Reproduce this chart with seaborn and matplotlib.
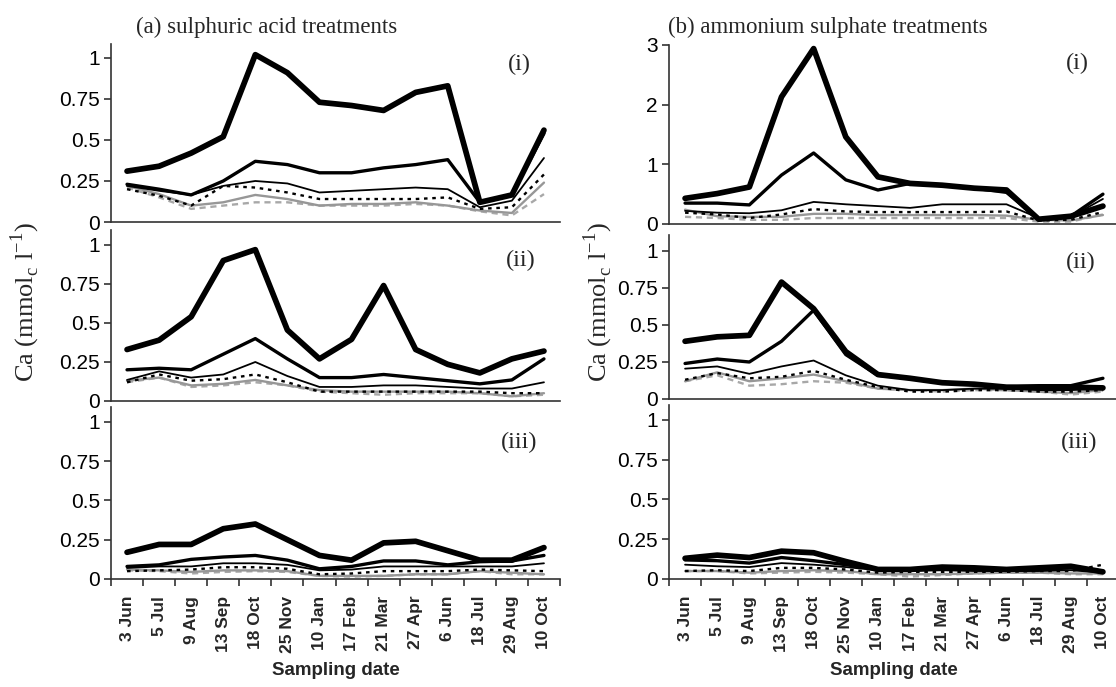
import numpy as np
import pandas as pd
import matplotlib
matplotlib.use("Agg")
import matplotlib.pyplot as plt
import seaborn as sns
from matplotlib.ticker import FixedLocator, FixedFormatter

# ---------------- data ----------------
dates = ["3 Jun", "5 Jul", "9 Aug", "13 Sep", "18 Oct", "25 Nov", "10 Jan",
         "17 Feb", "21 Mar", "27 Apr", "6 Jun", "18 Jul", "29 Aug", "10 Oct"]

# (a) sulphuric acid treatments
a1_thick = [0.31, 0.34, 0.42, 0.52, 1.02, 0.91, 0.73, 0.71, 0.68, 0.79, 0.83, 0.12, 0.165, 0.56]
a1_med   = [0.23, 0.20, 0.165, 0.25, 0.37, 0.35, 0.30, 0.30, 0.33, 0.35, 0.38, 0.12, 0.165, 0.54]
a1_thin  = [0.22, 0.19, 0.165, 0.22, 0.25, 0.235, 0.18, 0.19, 0.20, 0.21, 0.20, 0.09, 0.13, 0.39]
a1_dot   = [0.20, 0.16, 0.10, 0.22, 0.21, 0.18, 0.14, 0.14, 0.14, 0.14, 0.15, 0.08, 0.09, 0.29]
a1_gray  = [0.22, 0.17, 0.10, 0.12, 0.165, 0.14, 0.10, 0.11, 0.11, 0.12, 0.10, 0.07, 0.055, 0.24]
a1_gdash = [0.21, 0.15, 0.08, 0.10, 0.12, 0.12, 0.10, 0.10, 0.10, 0.11, 0.10, 0.065, 0.04, 0.17]

a2_thick = [0.33, 0.39, 0.54, 0.90, 0.97, 0.455, 0.27, 0.395, 0.74, 0.33, 0.235, 0.18, 0.27, 0.32]
a2_med   = [0.20, 0.21, 0.20, 0.30, 0.40, 0.27, 0.15, 0.15, 0.17, 0.15, 0.13, 0.11, 0.135, 0.27]
a2_thin  = [0.135, 0.19, 0.15, 0.17, 0.25, 0.16, 0.09, 0.09, 0.10, 0.10, 0.09, 0.08, 0.08, 0.12]
a2_dot   = [0.12, 0.17, 0.13, 0.14, 0.17, 0.12, 0.06, 0.06, 0.06, 0.06, 0.06, 0.06, 0.05, 0.05]
a2_gray  = [0.13, 0.15, 0.10, 0.11, 0.135, 0.10, 0.07, 0.06, 0.06, 0.06, 0.06, 0.05, 0.03, 0.05]
a2_gdash = [0.12, 0.15, 0.09, 0.10, 0.12, 0.10, 0.06, 0.05, 0.04, 0.05, 0.05, 0.05, 0.03, 0.04]

a3_thick = [0.17, 0.22, 0.22, 0.32, 0.35, 0.25, 0.15, 0.12, 0.23, 0.24, 0.18, 0.12, 0.12, 0.20]
a3_med   = [0.08, 0.09, 0.125, 0.14, 0.15, 0.12, 0.065, 0.08, 0.115, 0.115, 0.09, 0.11, 0.115, 0.15]
a3_thin  = [0.07, 0.08, 0.08, 0.10, 0.10, 0.09, 0.055, 0.06, 0.08, 0.08, 0.08, 0.08, 0.08, 0.10]
a3_dot   = [0.05, 0.055, 0.06, 0.075, 0.075, 0.065, 0.03, 0.035, 0.05, 0.05, 0.05, 0.06, 0.055, 0.05]
a3_gray  = [0.06, 0.055, 0.045, 0.055, 0.055, 0.05, 0.02, 0.02, 0.02, 0.03, 0.03, 0.05, 0.04, 0.03]
a3_gdash = [0.055, 0.05, 0.035, 0.045, 0.05, 0.045, 0.02, 0.015, 0.02, 0.03, 0.03, 0.05, 0.03, 0.03]

# (b) ammonium sulphate treatments
b1_thick = [0.43, 0.51, 0.62, 2.13, 2.94, 1.46, 0.79, 0.68, 0.65, 0.60, 0.57, 0.08, 0.13, 0.30]
b1_med   = [0.35, 0.35, 0.32, 0.82, 1.19, 0.74, 0.57, 0.68, 0.65, 0.60, 0.53, 0.08, 0.13, 0.50]
b1_thin  = [0.22, 0.19, 0.18, 0.23, 0.37, 0.33, 0.30, 0.27, 0.33, 0.33, 0.33, 0.10, 0.12, 0.42]
b1_dot   = [0.19, 0.16, 0.10, 0.16, 0.25, 0.21, 0.20, 0.20, 0.20, 0.20, 0.21, 0.06, 0.07, 0.20]
b1_gray  = [0.24, 0.13, 0.12, 0.12, 0.17, 0.17, 0.15, 0.15, 0.15, 0.15, 0.14, 0.07, 0.06, 0.15]
b1_gdash = [0.12, 0.10, 0.07, 0.07, 0.10, 0.10, 0.10, 0.10, 0.10, 0.10, 0.10, 0.04, 0.04, 0.16]

b2_thick = [0.39, 0.42, 0.43, 0.79, 0.61, 0.32, 0.165, 0.14, 0.11, 0.10, 0.08, 0.08, 0.08, 0.075]
b2_med   = [0.24, 0.27, 0.25, 0.39, 0.60, 0.30, 0.16, 0.14, 0.11, 0.10, 0.08, 0.09, 0.09, 0.14]
b2_thin  = [0.205, 0.22, 0.17, 0.22, 0.26, 0.16, 0.09, 0.06, 0.06, 0.07, 0.07, 0.06, 0.06, 0.07]
b2_dot   = [0.13, 0.175, 0.14, 0.15, 0.19, 0.13, 0.08, 0.05, 0.05, 0.06, 0.06, 0.05, 0.05, 0.06]
b2_gray  = [0.12, 0.18, 0.12, 0.14, 0.165, 0.12, 0.07, 0.06, 0.06, 0.07, 0.06, 0.05, 0.04, 0.06]
b2_gdash = [0.12, 0.16, 0.09, 0.10, 0.12, 0.11, 0.07, 0.06, 0.05, 0.06, 0.06, 0.05, 0.03, 0.05]

b3_thick = [0.13, 0.15, 0.135, 0.175, 0.165, 0.11, 0.06, 0.06, 0.075, 0.07, 0.06, 0.07, 0.08, 0.045]
b3_med   = [0.12, 0.115, 0.10, 0.135, 0.115, 0.09, 0.06, 0.06, 0.065, 0.06, 0.055, 0.06, 0.07, 0.05]
b3_thin  = [0.09, 0.08, 0.075, 0.10, 0.09, 0.075, 0.055, 0.05, 0.055, 0.05, 0.05, 0.05, 0.055, 0.04]
b3_dot   = [0.05, 0.055, 0.05, 0.07, 0.07, 0.06, 0.04, 0.045, 0.045, 0.045, 0.045, 0.05, 0.05, 0.09]
b3_gray  = [0.05, 0.05, 0.04, 0.05, 0.055, 0.05, 0.03, 0.03, 0.03, 0.035, 0.04, 0.04, 0.035, 0.035]
b3_gdash = [0.05, 0.05, 0.035, 0.04, 0.045, 0.04, 0.03, 0.015, 0.025, 0.035, 0.04, 0.04, 0.03, 0.03]

left_titles = "(a) sulphuric acid treatments"
right_titles = "(b) ammonium sulphate treatments"
panel_tags = ["(i)", "(ii)", "(iii)"]
xlabel = "Sampling date"
ylabel = r"Ca (mmol$_{\mathregular{c}}$ l$^{\mathregular{-1}}$)"

# ---------------- style ----------------
sns.set_theme(style="ticks")
plt.rcParams["font.family"] = ["Liberation Sans", "DejaVu Sans"]
plt.rcParams["mathtext.fontset"] = "custom"
plt.rcParams["mathtext.rm"] = "Liberation Serif"
SERIF = ["Liberation Serif", "DejaVu Serif"]

series_style = [
    ("gdash", dict(color="#a8a8a8", linewidth=1.7, linestyle=(0, (2.6, 2.0)))),
    ("gray",  dict(color="#979797", linewidth=1.7, linestyle="-")),
    ("dot",   dict(color="black", linewidth=1.7, linestyle=(0, (1.5, 2.0)))),
    ("thin",  dict(color="black", linewidth=1.3, linestyle="-")),
    ("med",   dict(color="black", linewidth=2.4, linestyle="-")),
    ("thick", dict(color="black", linewidth=4.1, linestyle="-")),
]

panels = {
    ("a", 0): dict(thick=a1_thick, med=a1_med, thin=a1_thin, dot=a1_dot, gray=a1_gray, gdash=a1_gdash),
    ("a", 1): dict(thick=a2_thick, med=a2_med, thin=a2_thin, dot=a2_dot, gray=a2_gray, gdash=a2_gdash),
    ("a", 2): dict(thick=a3_thick, med=a3_med, thin=a3_thin, dot=a3_dot, gray=a3_gray, gdash=a3_gdash),
    ("b", 0): dict(thick=b1_thick, med=b1_med, thin=b1_thin, dot=b1_dot, gray=b1_gray, gdash=b1_gdash),
    ("b", 1): dict(thick=b2_thick, med=b2_med, thin=b2_thin, dot=b2_dot, gray=b2_gray, gdash=b2_gdash),
    ("b", 2): dict(thick=b3_thick, med=b3_med, thin=b3_thin, dot=b3_dot, gray=b3_gray, gdash=b3_gdash),
}

W, H = 1116, 687
fig = plt.figure(figsize=(W / 100, H / 100), dpi=100)
fig.patch.set_facecolor("white")

def px_axes(left, top, right, bottom):
    return fig.add_axes([left / W, 1 - bottom / H, (right - left) / W, (bottom - top) / H])

geom = {
    ("a", 0): (111, 44, 560, 222, 1.085),
    ("a", 1): (111, 230, 560, 401, 1.096),
    ("a", 2): (111, 407, 560, 579, 1.095),
    ("b", 0): (669, 45, 1119, 224, 3.0),
    ("b", 1): (669, 235, 1119, 399, 1.108),
    ("b", 2): (669, 405, 1119, 579, 1.094),
}
tag_pos = {
    ("a", 0): (519, 64), ("a", 1): (521, 260), ("a", 2): (519, 442),
    ("b", 0): (1077, 63), ("b", 1): (1081, 262), ("b", 2): (1079, 442),
}

x = np.arange(len(dates))
for key, vals in panels.items():
    l, t, r, b, ytop = geom[key]
    ax = px_axes(l, t, r, b)
    ax.set_facecolor("white")
    for name, st in series_style:
        df = pd.DataFrame({"pos": x, "value": vals[name]})
        sns.lineplot(data=df, x="pos", y="value", ax=ax, legend=False,
                     solid_joinstyle="round", dash_joinstyle="round", **st)
    ax.set_xlim(-0.5, len(dates) - 0.5)
    ax.set_ylim(0, ytop)
    if key[0] == "b" and key[1] == 0:
        yt = [0, 1, 2, 3]
        ylabs = ["0", "1", "2", "3"]
    else:
        yt = [0, 0.25, 0.5, 0.75, 1]
        ylabs = ["0", "0.25", "0.5", "0.75", "1"]
    ax.yaxis.set_major_locator(FixedLocator(yt))
    ax.yaxis.set_major_formatter(FixedFormatter(ylabs))
    ax.tick_params(axis="y", direction="out", length=5, width=1.2, color="#333333",
                   labelsize=15, pad=3, labelcolor="black")
    ax.set_xlabel("")
    ax.set_ylabel("")
    ax.xaxis.set_major_locator(FixedLocator(list(x)))
    if key[1] == 2:
        ax.set_xticklabels(dates, rotation=90, fontsize=12.5, fontweight="bold")
        ax.xaxis.set_minor_locator(FixedLocator(list(np.arange(-0.5, len(dates), 1.0))))
        ax.tick_params(axis="x", which="major", length=0, pad=12)
        ax.tick_params(axis="x", which="minor", length=5, width=1.2, color="#333333", direction="out")
        ax.set_xlabel(xlabel, fontsize=13.5, fontweight="bold", labelpad=6)
    else:
        ax.set_xticklabels([])
        ax.tick_params(axis="x", which="both", length=0)
    for s in ["top", "right"]:
        ax.spines[s].set_visible(False)
    for s in ["left", "bottom"]:
        ax.spines[s].set_color("#333333")
        ax.spines[s].set_linewidth(1.2)
    tx, ty = tag_pos[key]
    fig.text(tx / W, 1 - ty / H, panel_tags[key[1]], ha="center", va="center",
             fontsize=17.5, family=SERIF)

fig.text(267 / W, 1 - 27 / H, left_titles, ha="center", va="center", fontsize=16.5, family=SERIF)
fig.text(828 / W, 1 - 27 / H, right_titles, ha="center", va="center", fontsize=16.5, family=SERIF)
fig.text(25 / W, 1 - 302 / H, ylabel, rotation=90, ha="center", va="center", fontsize=19, family=SERIF)
fig.text(598 / W, 1 - 302 / H, ylabel, rotation=90, ha="center", va="center", fontsize=19, family=SERIF)

fig.savefig("out.png", dpi=100, facecolor="white")
